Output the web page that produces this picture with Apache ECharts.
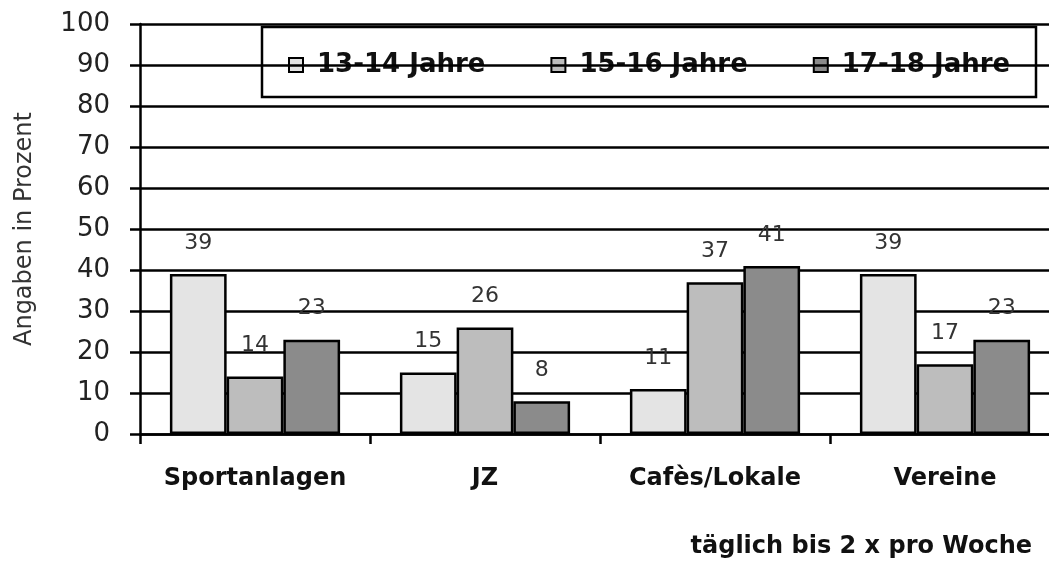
<!DOCTYPE html>
<html>
<head>
<meta charset="utf-8">
<script src="https://cdn.jsdelivr.net/npm/echarts@6/dist/echarts.min.js"></script>
<style>html,body{margin:0;padding:0;background:#fff}#c{width:1049px;height:567px}</style>
</head>
<body>
<div id="c"></div>
<script>
var categories = ['Sportanlagen', 'JZ', 'Cafès/Lokale', 'Vereine'];
var seriesNames = ['13-14 Jahre', '15-16 Jahre', '17-18 Jahre'];
var values1314 = [39, 15, 11, 39];
var values1516 = [14, 26, 37, 17];
var values1718 = [23, 8, 41, 23];
var yTicks = [0, 10, 20, 30, 40, 50, 60, 70, 80, 90, 100];
var yAxisTitle = 'Angaben in Prozent';
var footnote = 'täglich bis 2 x pro Woche';

var colors = ['#e4e4e4', '#bdbdbd', '#8b8b8b'];
var FONT = 'DejaVu Sans';
var chart = echarts.init(document.getElementById('c'), null, {renderer: 'canvas'});

function mkSeries(name, data, color) {
  return {
    name: name, type: 'bar', data: data, z: 2,
    barGap: '0%', barCategoryGap: '26%',
    itemStyle: {color: color, borderColor: '#000', borderWidth: 2.5},
    label: {show: true, position: 'top', distance: 20, color: '#333', fontSize: 22, fontFamily: FONT},
    emphasis: {disabled: true}
  };
}

chart.setOption({
  animation: false,
  backgroundColor: '#fff',
  textStyle: {fontFamily: FONT},
  grid: {left: 140, top: 24, width: 920, bottom: 133, containLabel: false, outerBoundsMode: 'none'},
  title: {
    text: footnote, right: 12, top: 530,
    textStyle: {fontFamily: FONT, fontWeight: 'bold', fontSize: 24, color: '#111'}
  },
  legend: {
    z: 0, left: 288, top: 52, padding: 0,
    icon: 'rect', itemWidth: 14, itemHeight: 14, itemGap: 65, itemTextGap: 14,
    itemStyle: {borderColor: '#000', borderWidth: 2},
    textStyle: {fontFamily: FONT, fontWeight: 'bold', fontSize: 26, color: '#111', lineHeight: 26,
      padding: [0, 0, 0, 9]},
    data: seriesNames
  },
  graphic: [{
    type: 'rect', z: 0, silent: true,
    shape: {x: 262, y: 27, width: 774, height: 70},
    style: {fill: 'none', stroke: '#000', lineWidth: 2.5}
  }],
  xAxis: {
    type: 'category', data: categories, z: 1,
    axisLine: {lineStyle: {color: '#000', width: 2.5}},
    axisTick: {show: true, interval: 0, length: 10, lineStyle: {color: '#000', width: 2.5}},
    axisLabel: {interval: 0, margin: 33, fontSize: 24, fontWeight: 'bold', color: '#111', fontFamily: FONT},
    splitLine: {show: false}
  },
  yAxis: {
    type: 'value', min: 0, max: 100, interval: 10, z: 1,
    name: yAxisTitle, nameLocation: 'middle', nameRotate: 90, nameGap: 103,
    nameTextStyle: {fontSize: 24, color: '#333', fontFamily: FONT},
    axisLine: {show: true, lineStyle: {color: '#000', width: 2.5}},
    axisTick: {show: true, length: 10, lineStyle: {color: '#000', width: 2.5}},
    axisLabel: {margin: 30, fontSize: 26, color: '#222', fontFamily: FONT,
      formatter: function (v) { return yTicks.indexOf(v) >= 0 ? String(v) : ''; }},
    splitLine: {show: true, lineStyle: {color: '#000', width: 2.5}}
  },
  series: [
    mkSeries(seriesNames[0], values1314, colors[0]),
    mkSeries(seriesNames[1], values1516, colors[1]),
    mkSeries(seriesNames[2], values1718, colors[2])
  ]
});
</script>
</body>
</html>
